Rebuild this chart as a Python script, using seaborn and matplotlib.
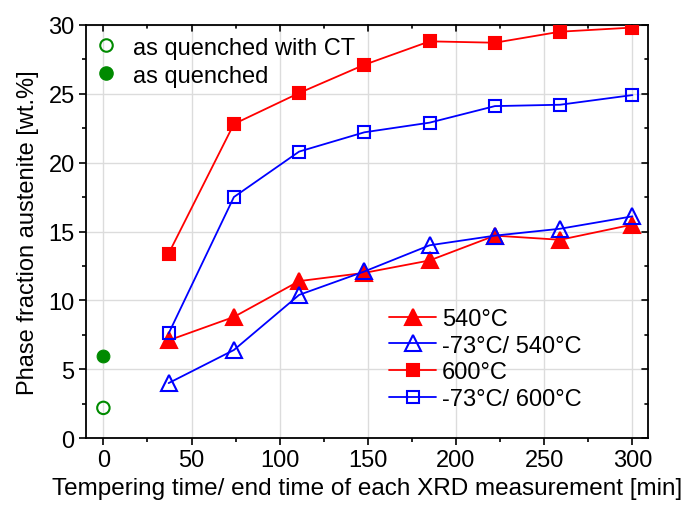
import matplotlib
matplotlib.use("Agg")
import matplotlib.pyplot as plt
import seaborn as sns
import pandas as pd
from matplotlib.ticker import MultipleLocator
from matplotlib.lines import Line2D

time = [37, 74, 111, 148, 185, 222, 259, 300]
s540 = [7.1, 8.8, 11.4, 12.0, 12.9, 14.7, 14.4, 15.5]
s73_540 = [4.0, 6.4, 10.4, 12.1, 14.0, 14.7, 15.2, 16.1]
s600 = [13.4, 22.8, 25.05, 27.1, 28.8, 28.7, 29.5, 29.8]
s73_600 = [7.6, 17.5, 20.8, 22.2, 22.9, 24.1, 24.2, 24.9]
aq_ct_x, aq_ct_y = [0], [2.2]
aq_x, aq_y = [0], [6.0]

sns.set_theme(style="white")
plt.rcParams['font.family'] = ['Liberation Sans', 'DejaVu Sans']
plt.rcParams.update({"text.color": "black", "axes.labelcolor": "black",
                     "xtick.color": "black", "ytick.color": "black"})

FS = 17
fig = plt.figure(figsize=(6.86, 5.06), dpi=100)
ax = fig.add_axes([0.125, 0.132, 0.82, 0.817])

series = [
    ("540°C", s540, "red", "^", "red", 11),
    ("-73°C/ 540°C", s73_540, "blue", "^", "none", 11),
    ("600°C", s600, "red", "s", "red", 9),
    ("-73°C/ 600°C", s73_600, "blue", "s", "none", 9),
]
handles = []
for name, vals, col, mk, fc, ms in series:
    df = pd.DataFrame({"t": time, "v": vals})
    sns.lineplot(data=df, x="t", y="v", ax=ax, color=col, marker=mk,
                 markerfacecolor=fc, markeredgecolor=col, markeredgewidth=1.5,
                 markersize=ms, linewidth=1.3, zorder=3)
    handles.append(Line2D([], [], color=col, marker=mk, markerfacecolor=fc,
                          markeredgecolor=col, markeredgewidth=1.5, markersize=ms,
                          linewidth=1.3, label=name))

green = "#008a00"
sns.scatterplot(x=aq_ct_x, y=aq_ct_y, ax=ax, marker="o", s=80, facecolor="none",
                edgecolor=green, linewidth=1.5, zorder=3)
sns.scatterplot(x=aq_x, y=aq_y, ax=ax, marker="o", s=85, color=green,
                edgecolor=green, zorder=3)
h_g = [Line2D([], [], linestyle="none", marker="o", markersize=9, markerfacecolor="none",
              markeredgecolor=green, markeredgewidth=1.5, label="as quenched with CT"),
       Line2D([], [], linestyle="none", marker="o", markersize=9.5, markerfacecolor=green,
              markeredgecolor=green, label="as quenched")]

ax.set_xlim(-10, 309)
ax.set_ylim(0, 30)
ax.xaxis.set_major_locator(MultipleLocator(50))
ax.xaxis.set_minor_locator(MultipleLocator(25))
ax.yaxis.set_major_locator(MultipleLocator(5))
ax.yaxis.set_minor_locator(MultipleLocator(2.5))
ax.grid(True, which="major", color="#dcdcdc", linewidth=1)
ax.set_axisbelow(True)
for sp in ax.spines.values():
    sp.set_color("black")
    sp.set_linewidth(1.3)
ax.tick_params(which="both", direction="out", bottom=True, left=True, labelsize=FS,
               color="black", width=1.2, pad=3)
ax.tick_params(which="major", length=5)
ax.tick_params(which="minor", length=3)
ax.set_xlabel("Tempering time/ end time of each XRD measurement [min]", fontsize=17.5,
              labelpad=4)
ax.set_ylabel("Phase fraction austenite [wt.%]", fontsize=FS, labelpad=7)

# mirrored inward ticks on top/right
for val in range(0, 301, 50):
    ax.plot([val, val], [30, 29.55], color="black", lw=1.2, clip_on=False)
for val in range(25, 301, 50):
    ax.plot([val, val], [30, 29.75], color="black", lw=1.2, clip_on=False)
for val in [0, 5, 10, 15, 20, 25, 30]:
    ax.plot([309, 305.6], [val, val], color="black", lw=1.2, clip_on=False)
for val in [2.5, 7.5, 12.5, 17.5, 22.5, 27.5]:
    ax.plot([309, 307], [val, val], color="black", lw=1.2, clip_on=False)

leg1 = ax.legend(handles=h_g, loc="upper left", bbox_to_anchor=(-0.01, 1.0), frameon=False,
                 fontsize=FS, handletextpad=0.55, borderaxespad=0.3, labelspacing=0.25,
                 handlelength=1.2, borderpad=0.2)
ax.add_artist(leg1)
ax.legend(handles=handles, loc="lower left", bbox_to_anchor=(0.514, 0.034), frameon=False,
          fontsize=FS, handlelength=2.0, handletextpad=0.25, labelspacing=0.2,
          borderpad=0.1)

fig.savefig("out.png", dpi=100)
